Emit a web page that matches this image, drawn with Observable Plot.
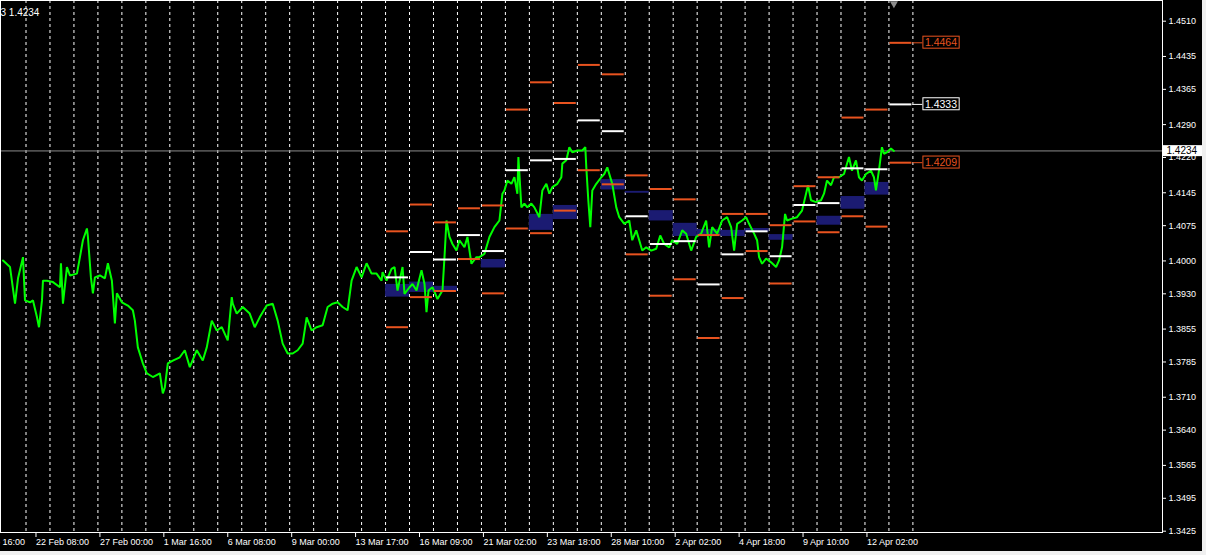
<!DOCTYPE html>
<html><head><meta charset="utf-8">
<script src="https://cdn.jsdelivr.net/npm/d3@7"></script>
<script src="https://cdn.jsdelivr.net/npm/@observablehq/plot@0.6"></script>
<style>
html,body{margin:0;padding:0;background:#f0f0f0;width:1206px;height:555px;overflow:hidden}
#chart svg{display:block}
</style></head><body><div id="chart"></div>
<script>
// ---- data (hourly bar index counted from the first day separator, close price) ----
const symbolText = "3 1.4234";
const currentPrice = 1.4234;
const priceBars = [
[-23,1.4001],[-16,1.3987],[-11,1.3909],[-8,1.3963],[-3,1.4008],[-1,1.3916],[4,1.3912],[7,1.3916],[11,1.3880],[13,1.3859],
[16,1.3916],[17,1.3958],[21,1.3958],[27,1.3955],[34,1.3944],[35,1.3995],[37,1.3909],[41,1.3987],[44,1.3969],[51,1.3973],
[54,1.4008],[57,1.4044],[61,1.4069],[62,1.4051],[65,1.3965],[67,1.3931],[69,1.3965],[74,1.3969],[79,1.3963],[82,1.3995],
[86,1.3958],[89,1.3867],[91,1.3931],[96,1.3912],[102,1.3905],[107,1.3895],[109,1.3873],[112,1.3816],[117,1.3782],[121,1.3761],
[127,1.3753],[134,1.3761],[137,1.3718],[139,1.3731],[142,1.3782],[147,1.3788],[154,1.3795],[159,1.3810],[164,1.3774],[171,1.3810],
[177,1.3788],[181,1.3816],[186,1.3873],[191,1.3852],[196,1.3859],[202,1.3831],[206,1.3923],[207,1.3909],[211,1.3888],[217,1.3902],
[224,1.3888],[229,1.3859],[234,1.3880],[241,1.3905],[247,1.3909],[252,1.3873],[257,1.3824],[262,1.3803],[267,1.3803],[272,1.3810],
[277,1.3824],[281,1.3880],[286,1.3852],[291,1.3859],[297,1.3863],[302,1.3902],[307,1.3909],[312,1.3912],[317,1.3902],[322,1.3895],
[326,1.3958],[331,1.3987],[336,1.3965],[341,1.3995],[346,1.3973],[351,1.3973],[356,1.3958],[357,1.3976],[361,1.3958],[366,1.3983],
[369,1.3987],[372,1.3937],[377,1.3987],[379,1.3930],[384,1.3944],[387,1.3951],[391,1.3937],[396,1.3980],[399,1.3951],[401,1.3891],
[403,1.3937],[407,1.3944],[412,1.3919],[417,1.3937],[419,1.4008],[421,1.4086],[424,1.4051],[427,1.4036],[431,1.4022],[434,1.4044],
[439,1.4029],[442,1.4051],[446,1.3994],[451,1.4008],[454,1.4008],[459,1.4015],[464,1.4051],[469,1.4072],[474,1.4086],[477,1.4143],
[479,1.4150],[482,1.4171],[486,1.4164],[489,1.4178],[492,1.4143],[493,1.4221],[496,1.4114],[499,1.4122],[502,1.4114],[506,1.4122],
[509,1.4114],[514,1.4093],[517,1.4150],[521,1.4164],[524,1.4143],[527,1.4157],[532,1.4164],[536,1.4178],[537,1.4207],[541,1.4214],
[544,1.4242],[547,1.4231],[552,1.4235],[557,1.4235],[560,1.4242],[561,1.4199],[563,1.4129],[565,1.4072],[567,1.4150],[571,1.4164],
[576,1.4178],[579,1.4185],[582,1.4199],[587,1.4164],[591,1.4114],[594,1.4093],[599,1.4079],[604,1.4086],[607,1.4044],[611,1.4065],
[614,1.4044],[617,1.4022],[621,1.4029],[626,1.4022],[631,1.4026],[635,1.4054],[639,1.4036],[644,1.4029],[647,1.4044],[652,1.4036],
[657,1.4065],[661,1.4058],[666,1.4022],[671,1.4051],[676,1.4058],[681,1.4086],[684,1.4029],[687,1.4072],[692,1.4058],[697,1.4086],
[702,1.4093],[706,1.4072],[709,1.4022],[712,1.4079],[717,1.4086],[721,1.4093],[724,1.4079],[729,1.4058],[732,1.4044],[734,1.4008],
[737,1.3994],[741,1.4005],[746,1.3997],[751,1.3987],[754,1.4001],[757,1.4029],[760,1.4100],[762,1.4086],[767,1.4090],[772,1.4093],
[777,1.4107],[781,1.4143],[783,1.4161],[786,1.4129],[791,1.4125],[796,1.4129],[799,1.4143],[802,1.4171],[806,1.4161],[809,1.4178],
[814,1.4178],[819,1.4185],[824,1.4221],[827,1.4192],[831,1.4214],[834,1.4178],[837,1.4171],[841,1.4185],[846,1.4192],[849,1.4178],
[851,1.4150],[854,1.4192],[857,1.4242],[859,1.4228],[862,1.4231],[866,1.4239],[869,1.4234]
];

// daily levels (day index = bar / 24)
const levelDays  = [15,16,17,18,19,20,21,22,23,24,25,26,27,28,29,30,31,32,33,34,35,36];
const upperLevel = [1.4063,1.4120,1.4082,1.4112,1.4118,1.4322,1.4380,1.4336,1.4417,1.4397,1.4182,1.4153,1.4131,1.4055,1.4100,1.4100,1.4076,1.4159,1.4178,1.4305,1.4322,1.4464];
const pivotLevel = [1.3965,1.4019,1.4003,1.4055,1.4021,1.4193,1.4214,1.4217,1.4299,1.4276,1.4095,1.4036,1.4042,1.3950,1.4014,1.4063,1.4010,1.4119,1.4123,1.4197,1.4195,1.4333];
const lowerLevel = [1.3859,1.3923,1.3936,1.4004,1.3931,1.4069,1.4059,1.4107,1.4193,1.4163,1.4014,1.3926,1.3961,1.3836,1.3921,1.4021,1.3952,1.4084,1.4061,1.4095,1.4073,1.4209];

// dark blue zones
const zoneDays = [15,16,17,19,21,22,24,25,26,27,28,29,30,31,33,34,35];
const zoneHigh = [1.3950,1.3955,1.3946,1.4003,1.4099,1.4118,1.4173,1.4148,1.4107,1.4080,1.4067,1.4065,1.4069,1.4056,1.4095,1.4137,1.4167];
const zoneLow  = [1.3923,1.3933,1.3936,1.3985,1.4065,1.4088,1.4151,1.4144,1.4085,1.4052,1.4054,1.4052,1.4061,1.4044,1.4076,1.4110,1.4140];

// axes
const timeTickBars   = [-56,8,72,136,200,264,328,392,456,520,584,648,712,776,840];
const timeTickLabels = ["19 Feb 16:00","22 Feb 08:00","27 Feb 00:00","1 Mar 16:00","6 Mar 08:00","9 Mar 00:00","13 Mar 17:00","16 Mar 09:00","21 Mar 02:00","23 Mar 18:00","28 Mar 10:00","2 Apr 02:00","4 Apr 18:00","9 Apr 10:00","12 Apr 02:00"];
const priceTicks = [1.3425,1.3495,1.3565,1.3640,1.3710,1.3785,1.3855,1.3930,1.4000,1.4075,1.4145,1.4220,1.4290,1.4365,1.4435,1.4510];
const gridDayCount = 38;

// ---- build ----
const barsPerDay = 24;
const ORANGE = "#e8531f", NAVY = "#1b1b72", LIME = "#00ff00", GRAY = "#8c8c8c";
const labelOf = new Map(timeTickBars.map((b, i) => [b, timeTickLabels[i]]));
const gridDays = d3.range(gridDayCount);
const levels = levelDays.map((d, i) => ({day: d, r: upperLevel[i], p: pivotLevel[i], s: lowerLevel[i]}));
const zones = zoneDays.map((d, i) => ({day: d, hi: zoneHigh[i], lo: zoneLow[i]}));
const last = levels[levels.length - 1];
const lastEnd = (last.day + 1) * barsPerDay;
const orangeLast = [last.r, last.s];
const whiteLast = [last.p];
const labelGap = 10;
const lastBar = priceBars[priceBars.length - 1][0];
const segX1 = d => d.day * barsPerDay + 1;
const segX2 = d => d.day * barsPerDay + barsPerDay - 1;

const svg = Plot.plot({
  width: 1202, height: 551,
  marginTop: 0, marginLeft: 0, marginRight: 40, marginBottom: 19,
  style: {background: "#000", color: "#fff", fontFamily: "'Liberation Sans', Arial, sans-serif", fontSize: "9px"},
  x: {domain: [0, 888], range: [25.5, 912.4]},
  y: {domain: [1.3425, 1.4510], range: [530.7, 20.7]},
  marks: [
    Plot.ruleX(gridDays, {x: d => d * barsPerDay, stroke: "#fff", strokeDasharray: "3,3", strokeWidth: 1}),
    Plot.rect(zones, {x1: d => d.day * barsPerDay, x2: d => (d.day + 1) * barsPerDay, y1: "lo", y2: "hi", fill: NAVY}),
    Plot.ruleY([currentPrice], {stroke: GRAY, strokeWidth: 1}),
    Plot.line(priceBars, {x: d => d[0], y: d => d[1], stroke: LIME, strokeWidth: 2, strokeLinejoin: "miter"}),
    Plot.ruleY(levels, {y: "r", x1: segX1, x2: segX2, stroke: ORANGE, strokeWidth: 2}),
    Plot.ruleY(levels, {y: "s", x1: segX1, x2: segX2, stroke: ORANGE, strokeWidth: 2}),
    Plot.ruleY(levels, {y: "p", x1: segX1, x2: segX2, stroke: "#fff", strokeWidth: 2}),
    Plot.ruleY(orangeLast, {y: d => d, x1: () => lastEnd, x2: () => lastEnd + labelGap, stroke: ORANGE, strokeWidth: 1}),
    Plot.ruleY(whiteLast, {y: d => d, x1: () => lastEnd, x2: () => lastEnd + labelGap, stroke: "#fff", strokeWidth: 1}),
    Plot.text(orangeLast, {y: d => d, x: () => lastEnd, dx: 12, textAnchor: "start", text: d => d.toFixed(4), fill: ORANGE, fontSize: 10.5, ariaDescription: "box-orange"}),
    Plot.text(whiteLast, {y: d => d, x: () => lastEnd, dx: 12, textAnchor: "start", text: d => d.toFixed(4), fill: "#fff", fontSize: 10.5, ariaDescription: "box-white"}),
    Plot.axisY({anchor: "right", ticks: priceTicks, tickFormat: d => d.toFixed(4), tickSize: 3, tickPadding: 3, label: null}),
    Plot.axisX({ticks: timeTickBars, tickFormat: d => labelOf.get(d), tickSize: 5, tickPadding: 1, textAnchor: "start", dx: 2, label: null}),
    Plot.frame({stroke: "#fff"}),
    Plot.text([currentPrice], {y: d => d, frameAnchor: "right", textAnchor: "start", dx: 4, fill: "#000", text: d => d.toFixed(4), fontSize: 10, ariaDescription: "box-price"}),
    Plot.text([symbolText], {frameAnchor: "top-left", dy: 8, textAnchor: "start", text: d => d, fill: "#fff", fontSize: 10}),
    Plot.dot([lastBar], {x: d => d, frameAnchor: "top", dy: 3, symbol: "triangle", r: 3, fill: GRAY, rotate: 180})
  ]
});
document.getElementById("chart").append(svg);

function boxText(label, fill, stroke, padL, padR, padY) {
  svg.querySelectorAll(`[aria-description="${label}"] text`).forEach(t => {
    const b = t.getBBox();
    const r = document.createElementNS("http://www.w3.org/2000/svg", "rect");
    r.setAttribute("x", b.x - padL);
    r.setAttribute("y", b.y - padY);
    r.setAttribute("width", b.width + padL + padR);
    r.setAttribute("height", b.height + 2 * padY);
    r.setAttribute("fill", fill);
    r.setAttribute("stroke", stroke);
    r.setAttribute("stroke-width", 1);
    if (t.getAttribute("transform")) r.setAttribute("transform", t.getAttribute("transform"));
    t.parentNode.insertBefore(r, t);
  });
}
boxText("box-orange", "#000", ORANGE, 2, 2, 0);
boxText("box-white", "#000", "#fff", 2, 2, 0);
boxText("box-price", "#fff", "none", 4, 5, 0);
</script></body></html>
